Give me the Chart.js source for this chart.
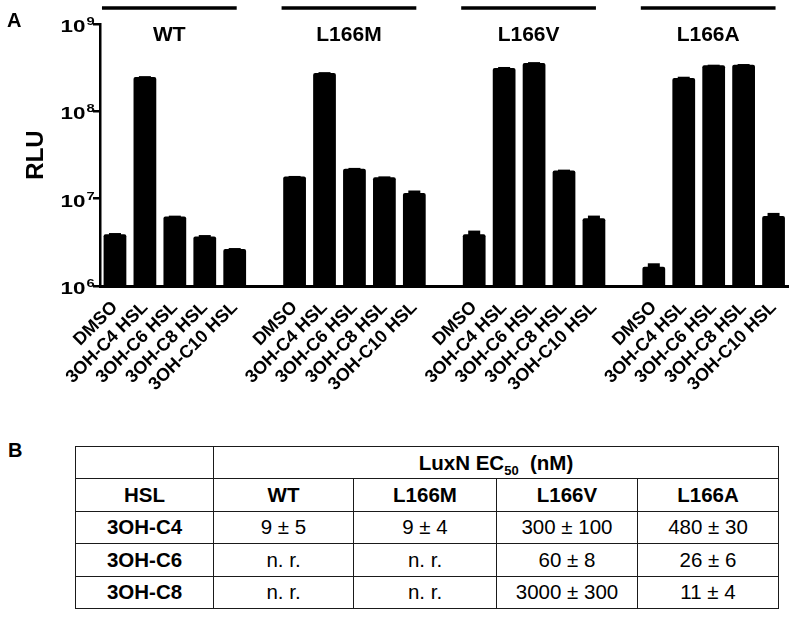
<!DOCTYPE html>
<html>
<head>
<meta charset="utf-8">
<script src="https://cdn.jsdelivr.net/npm/chart.js@4.4.1/dist/chart.umd.min.js"></script>
<style>
  html, body { margin: 0; padding: 0; background: #fff; }
  body { width: 800px; height: 617px; position: relative; overflow: hidden;
         font-family: 'Liberation Sans', Arial, sans-serif; color: #000; }
  #chart { position: absolute; left: 0; top: 0; }
  #panelB { position: absolute; left: 8px; top: 439px; font-weight: bold; font-size: 20px; }
  table { position: absolute; left: 75px; top: 446px; width: 703px;
          border-collapse: collapse; table-layout: fixed; font-size: 20.5px; }
  tr { height: 32.4px; }
  td, th { border: 1.5px solid #1a1a1a; text-align: center; padding: 0; }
  th { font-weight: bold; }
  td { font-weight: normal; }
  sub { font-size: 13px; vertical-align: -5px; line-height: 0; }
</style>
</head>
<body>
<canvas id="chart" width="800" height="410"></canvas>
<div id="panelB">B</div>
<table id="ec50">
  <colgroup>
    <col style="width:138px"><col style="width:140px"><col style="width:143px"><col style="width:141px"><col style="width:141px">
  </colgroup>
  <thead></thead>
  <tbody></tbody>
</table>
<script>
// ---------- Data ----------------------------------------------------------

const STRAINS = ['WT', 'L166M', 'L166V', 'L166A'];
const HSLS = ['DMSO', '3OH-C4 HSL', '3OH-C6 HSL', '3OH-C8 HSL', '3OH-C10 HSL'];

// RLU per strain, one value per HSL
const RLU_WT    = [3.92e6, 2.47e8, 6.24e6, 3.68e6, 2.66e6];
const RLU_L166M = [1.79e7, 2.75e8, 2.20e7, 1.76e7, 1.16e7];
const RLU_L166V = [3.92e6, 3.14e8, 3.58e8, 2.10e7, 5.97e6];
const RLU_L166A = [1.66e6, 2.41e8, 3.36e8, 3.42e8, 6.35e6];

// upper error (absolute)
const ERR_WT    = [0.12e6, 0.06e8, 0.15e6, 0.15e6, 0.06e6];
const ERR_L166M = [0.03e7, 0.06e8, 0.05e7, 0.04e7, 0.08e7];
const ERR_L166V = [0.39e6, 0.08e8, 0.08e8, 0.05e7, 0.43e6];
const ERR_L166A = [0.16e6, 0.08e8, 0.06e8, 0.06e8, 0.52e6];

const Y_TICKS = [1e6, 1e7, 1e8, 1e9];

// Table B: LuxN EC50 (nM)
const TABLE_HSL = ['3OH-C4', '3OH-C6', '3OH-C8'];
const EC50_WT    = ['9 ± 5', 'n. r.', 'n. r.'];
const EC50_L166M = ['9 ± 4', 'n. r.', 'n. r.'];
const EC50_L166V = ['300 ± 100', '60 ± 8', '3000 ± 300'];
const EC50_L166A = ['480 ± 30', '26 ± 6', '11 ± 4'];

// ---------- Build chart rows (one empty slot between strain groups) -------

const FONT = "'Liberation Sans', Arial, sans-serif";
const CANVAS_H = 410;
const AXIS_Y = 286;   // pixel row of the x axis

const groupValues = [RLU_WT, RLU_L166M, RLU_L166V, RLU_L166A];
const groupErrors = [ERR_WT, ERR_L166M, ERR_L166V, ERR_L166A];

const labels = [];
const values = [];
const errors = [];
const groupIdx = [];   // [first, last] index per strain
groupValues.forEach((vals, g) => {
  if (g > 0) { labels.push(''); values.push(null); errors.push(null); }
  const first = labels.length;
  HSLS.forEach((h, i) => {
    labels.push(h);
    values.push(vals[i]);
    errors.push(groupErrors[g][i]);
  });
  groupIdx.push([first, labels.length - 1]);
});

// ---------- Extra drawing: error caps, group bars, axis labels ------------

const decorations = {
  id: 'decorations',
  afterDatasetsDraw(chart) {
    const ctx = chart.ctx;
    const y = chart.scales.y;
    const meta = chart.getDatasetMeta(0);
    ctx.save();
    ctx.fillStyle = '#000';
    values.forEach((v, i) => {
      if (v == null) return;
      const el = meta.data[i];
      const top = y.getPixelForValue(v + errors[i]);
      ctx.fillRect(el.x - 6, top, 12, el.y - top + 2);
    });
    ctx.restore();
  },
  afterDraw(chart) {
    const ctx = chart.ctx;
    const y = chart.scales.y;
    const area = chart.chartArea;
    const meta = chart.getDatasetMeta(0);
    ctx.save();
    ctx.fillStyle = '#000';
    ctx.strokeStyle = '#000';

    // strain bars + names
    STRAINS.forEach((name, g) => {
      const x0 = meta.data[groupIdx[g][0]].x - 13;
      const x1 = meta.data[groupIdx[g][1]].x + 2;
      ctx.lineWidth = 3.5;
      ctx.beginPath();
      ctx.moveTo(x0, 8);
      ctx.lineTo(x1, 8);
      ctx.stroke();
      ctx.font = `bold 21px ${FONT}`;
      ctx.textAlign = 'center';
      ctx.textBaseline = 'middle';
      ctx.fillText(name, (x0 + x1) / 2, 35);
    });

    // y tick labels 10^n
    Y_TICKS.forEach((v) => {
      const py = y.getPixelForValue(v);
      const exp = String(Math.round(Math.log10(v)));
      ctx.save();
      ctx.translate(85.5, py + 8);
      ctx.scale(1.4, 1);
      ctx.font = `bold 16px ${FONT}`;
      ctx.textAlign = 'right';
      ctx.textBaseline = 'alphabetic';
      ctx.fillText('10', 0, 0);
      ctx.restore();
      ctx.save();
      ctx.translate(86.5, py + 1);
      ctx.scale(1.4, 1);
      ctx.font = `bold 10.5px ${FONT}`;
      ctx.textAlign = 'left';
      ctx.textBaseline = 'alphabetic';
      ctx.fillText(exp, 0, 0);
      ctx.restore();
    });

    // axis title
    ctx.save();
    ctx.translate(36, (area.top + area.bottom) / 2);
    ctx.rotate(-Math.PI / 2);
    ctx.font = `bold 24px ${FONT}`;
    ctx.textAlign = 'center';
    ctx.textBaseline = 'middle';
    ctx.fillText('RLU', 0, 0);
    ctx.restore();

    // panel letter
    ctx.font = `bold 20px ${FONT}`;
    ctx.textAlign = 'left';
    ctx.textBaseline = 'middle';
    ctx.fillText('A', 7, 21);
    ctx.restore();
  },
};

new Chart(document.getElementById('chart'), {
  type: 'bar',
  data: {
    labels,
    datasets: [{
      data: values,
      backgroundColor: '#000',
      borderRadius: 2,
      borderSkipped: 'bottom',
      barPercentage: 0.76,
      categoryPercentage: 1,
    }],
  },
  options: {
    responsive: false,
    devicePixelRatio: 1,
    animation: false,
    layout: { padding: { left: 0, right: 8, top: 24, bottom: 0 } },
    plugins: { legend: { display: false }, tooltip: { enabled: false } },
    scales: {
      x: {
        grid: { display: false, drawTicks: false },
        border: { display: true, color: '#000', width: 3 },
        ticks: {
          autoSkip: false,
          minRotation: 45,
          maxRotation: 45,
          padding: 11,
          color: '#000',
          font: { family: FONT, size: 18, weight: 'bold' },
        },
        afterFit: (s) => { s.height = CANVAS_H - AXIS_Y; },
      },
      y: {
        type: 'logarithmic',
        min: Y_TICKS[0],
        max: Y_TICKS[Y_TICKS.length - 1],
        grid: { display: true, drawOnChartArea: false, drawTicks: true, tickLength: 7, color: '#000', lineWidth: 2.5 },
        border: { display: true, color: '#000', width: 2.5 },
        ticks: { display: false },
        afterBuildTicks: (s) => { s.ticks = Y_TICKS.map((v) => ({ value: v })); },
        afterFit: (s) => { s.width = 100; },
      },
    },
  },
  plugins: [decorations],
});

// ---------- Table B -------------------------------------------------------

const thead = document.querySelector('#ec50 thead');
const tbody = document.querySelector('#ec50 tbody');
thead.innerHTML =
  '<tr><th></th><th colspan="4">LuxN EC<sub>50</sub>&nbsp;&nbsp;(nM)</th></tr>' +
  '<tr><th>HSL</th>' + STRAINS.map((s) => `<th>${s}</th>`).join('') + '</tr>';
const cols = [EC50_WT, EC50_L166M, EC50_L166V, EC50_L166A];
TABLE_HSL.forEach((h, r) => {
  const tr = document.createElement('tr');
  tr.innerHTML = `<th>${h}</th>` + cols.map((c) => `<td>${c[r]}</td>`).join('');
  tbody.appendChild(tr);
});
</script>
</body>
</html>
